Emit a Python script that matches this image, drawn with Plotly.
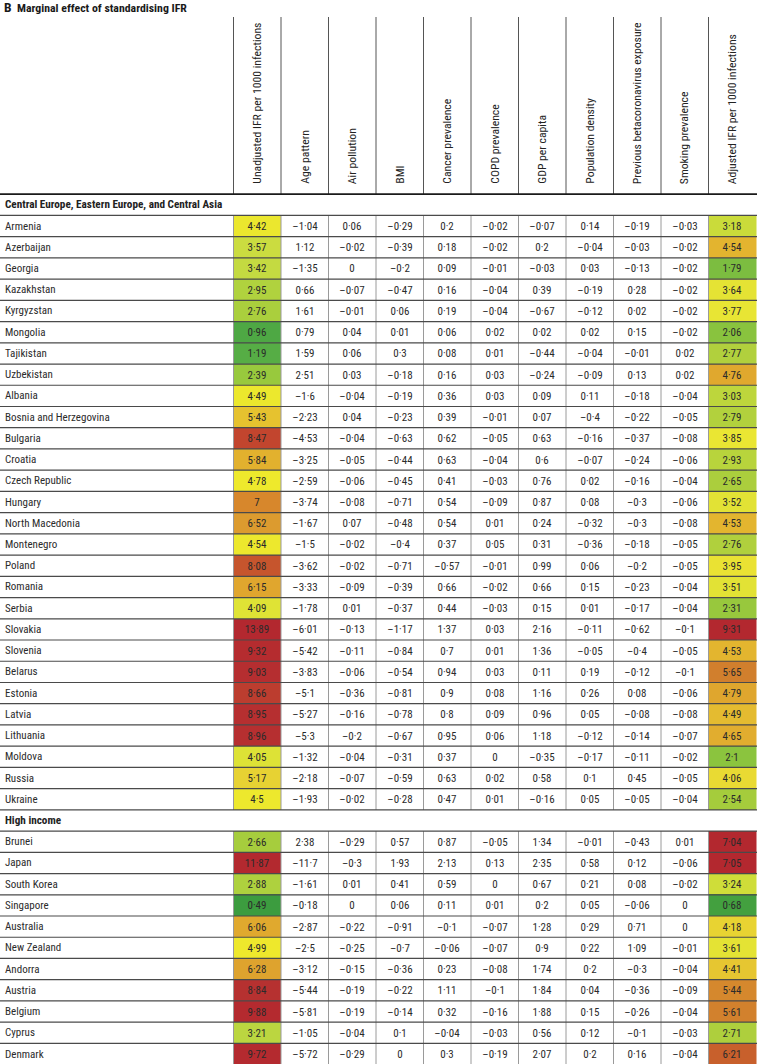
import plotly.graph_objects as go

# ---------------- data ----------------
title_letter = "B"
title_text = "Marginal effect of standardising IFR"

columns = [
    "Unadjusted IFR per 1000 infections",
    "Age pattern",
    "Air pollution",
    "BMI",
    "Cancer prevalence",
    "COPD prevalence",
    "GDP per capita",
    "Population density",
    "Previous betacoronavirus exposure",
    "Smoking prevalence",
    "Adjusted IFR per 1000 infections",
]

sections = ["Central Europe, Eastern Europe, and Central Asia", "High income"]
section_sizes = [28, 11]

countries = [
    "Armenia", "Azerbaijan", "Georgia", "Kazakhstan", "Kyrgyzstan", "Mongolia",
    "Tajikistan", "Uzbekistan", "Albania", "Bosnia and Herzegovina", "Bulgaria",
    "Croatia", "Czech Republic", "Hungary", "North Macedonia", "Montenegro",
    "Poland", "Romania", "Serbia", "Slovakia", "Slovenia", "Belarus", "Estonia",
    "Latvia", "Lithuania", "Moldova", "Russia", "Ukraine",
    "Brunei", "Japan", "South Korea", "Singapore", "Australia", "New Zealand",
    "Andorra", "Austria", "Belgium", "Cyprus", "Denmark",
]

unadjusted = [4.42, 3.57, 3.42, 2.95, 2.76, 0.96, 1.19, 2.39, 4.49, 5.43, 8.47,
              5.84, 4.78, 7, 6.52, 4.54, 8.08, 6.15, 4.09, 13.89, 9.32, 9.03, 8.66,
              8.95, 8.96, 4.05, 5.17, 4.5,
              2.66, 11.87, 2.88, 0.49, 6.06, 4.99, 6.28, 8.84, 9.88, 3.21, 9.72]
age_pattern = [-1.04, 1.12, -1.35, 0.66, 1.61, 0.79, 1.59, 2.51, -1.6, -2.23, -4.53,
               -3.25, -2.59, -3.74, -1.67, -1.5, -3.62, -3.33, -1.78, -6.01, -5.42,
               -3.83, -5.1, -5.27, -5.3, -1.32, -2.18, -1.93,
               2.38, -11.7, -1.61, -0.18, -2.87, -2.5, -3.12, -5.44, -5.81, -1.05, -5.72]
air_pollution = [0.06, -0.02, 0, -0.07, -0.01, 0.04, 0.06, 0.03, -0.04, 0.04, -0.04,
                 -0.05, -0.06, -0.08, 0.07, -0.02, -0.02, -0.09, 0.01, -0.13, -0.11,
                 -0.06, -0.36, -0.16, -0.2, -0.04, -0.07, -0.02,
                 -0.29, -0.3, 0.01, 0, -0.22, -0.25, -0.15, -0.19, -0.19, -0.04, -0.29]
bmi = [-0.29, -0.39, -0.2, -0.47, 0.06, 0.01, 0.3, -0.18, -0.19, -0.23, -0.63,
       -0.44, -0.45, -0.71, -0.48, -0.4, -0.71, -0.39, -0.37, -1.17, -0.84,
       -0.54, -0.81, -0.78, -0.67, -0.31, -0.59, -0.28,
       0.57, 1.93, 0.41, 0.06, -0.91, -0.7, -0.36, -0.22, -0.14, 0.1, 0]
cancer = [0.2, 0.18, 0.09, 0.16, 0.19, 0.06, 0.08, 0.16, 0.36, 0.39, 0.62,
          0.63, 0.41, 0.54, 0.54, 0.37, -0.57, 0.66, 0.44, 1.37, 0.7,
          0.94, 0.9, 0.8, 0.95, 0.37, 0.63, 0.47,
          0.87, 2.13, 0.59, 0.11, -0.1, -0.06, 0.23, 1.11, 0.32, -0.04, 0.3]
copd = [-0.02, -0.02, -0.01, -0.04, -0.04, 0.02, 0.01, 0.03, 0.03, -0.01, -0.05,
        -0.04, -0.03, -0.09, 0.01, 0.05, -0.01, -0.02, -0.03, 0.03, 0.01,
        0.03, 0.08, 0.09, 0.06, 0, 0.02, 0.01,
        -0.05, 0.13, 0, 0.01, -0.07, -0.07, -0.08, -0.1, -0.16, -0.03, -0.19]
gdp = [-0.07, 0.2, -0.03, 0.39, -0.67, 0.02, -0.44, -0.24, 0.09, 0.07, 0.63,
       0.6, 0.76, 0.87, 0.24, 0.31, 0.99, 0.66, 0.15, 2.16, 1.36,
       0.11, 1.16, 0.96, 1.18, -0.35, 0.58, -0.16,
       1.34, 2.35, 0.67, 0.2, 1.28, 0.9, 1.74, 1.84, 1.88, 0.56, 2.07]
pop_density = [0.14, -0.04, 0.03, -0.19, -0.12, 0.02, -0.04, -0.09, 0.11, -0.4, -0.16,
               -0.07, 0.02, 0.08, -0.32, -0.36, 0.06, 0.15, 0.01, -0.11, -0.05,
               0.19, 0.26, 0.05, -0.12, -0.17, 0.1, 0.05,
               -0.01, 0.58, 0.21, 0.05, 0.29, 0.22, 0.2, 0.04, 0.15, 0.12, 0.2]
betacov = [-0.19, -0.03, -0.13, 0.28, 0.02, 0.15, -0.01, 0.13, -0.18, -0.22, -0.37,
           -0.24, -0.16, -0.3, -0.3, -0.18, -0.2, -0.23, -0.17, -0.62, -0.4,
           -0.12, 0.08, -0.08, -0.14, -0.11, 0.45, -0.05,
           -0.43, 0.12, 0.08, -0.06, 0.71, 1.09, -0.3, -0.36, -0.26, -0.1, 0.16]
smoking = [-0.03, -0.02, -0.02, -0.02, -0.02, -0.02, 0.02, 0.02, -0.04, -0.05, -0.08,
           -0.06, -0.04, -0.06, -0.08, -0.05, -0.05, -0.04, -0.04, -0.1, -0.05,
           -0.1, -0.06, -0.08, -0.07, -0.02, -0.05, -0.04,
           0.01, -0.06, -0.02, 0, 0, -0.01, -0.04, -0.09, -0.04, -0.03, -0.04]
adjusted = [3.18, 4.54, 1.79, 3.64, 3.77, 2.06, 2.77, 4.76, 3.03, 2.79, 3.85,
            2.93, 2.65, 3.52, 4.53, 2.76, 3.95, 3.51, 2.31, 9.31, 4.53,
            5.65, 4.79, 4.49, 4.65, 2.1, 4.06, 2.54,
            7.04, 7.05, 3.24, 0.68, 4.18, 3.61, 4.41, 5.44, 5.61, 2.71, 6.21]

middle_cols = [age_pattern, air_pollution, bmi, cancer, copd, gdp, pop_density, betacov, smoking]

# ---------------- styling ----------------
FONT = "Liberation Sans Narrow, Roboto Condensed, Roboto, Arial Narrow, sans-serif"
TXT = "#2b2b2b"
unadj_stops = [(0.45, "#3b9b3f"), (1.0, "#4fa944"), (1.2, "#56ad45"), (2.4, "#99c93d"),
               (2.7, "#a8ce3d"), (3.0, "#b2d33e"), (3.5, "#c8db42"), (4.05, "#dde236"),
               (4.4, "#ebe72e"), (4.6, "#eee92c"), (5.0, "#eee82c"), (5.17, "#e7d233"),
               (5.43, "#e6c22f"), (5.84, "#e2b12e"), (6.1, "#e0a82e"), (6.5, "#dc9c2f"),
               (7.0, "#d7872c"), (8.08, "#c6552d"), (8.47, "#c2452e"), (8.7, "#bb3b2f"),
               (8.85, "#b63030"), (9.5, "#b42a2f"), (14.0, "#b3282f")]
adj_stops = [(0.6, "#3f9e3f"), (1.8, "#7dbd40"), (2.1, "#8bc43e"), (2.5, "#a3cb3c"),
             (2.8, "#b2d13d"), (3.05, "#bed63c"), (3.25, "#d0dd39"), (3.5, "#e2e235"),
             (3.9, "#ebe633"), (4.06, "#e9da33"), (4.2, "#e8d232"), (4.41, "#e6c631"),
             (4.53, "#e3b52f"), (4.65, "#e1ad2f"), (4.8, "#dfa62e"), (5.5, "#d4852d"),
             (5.65, "#d17f2d"), (6.2, "#c8612c"), (7.0, "#b3282f"), (9.5, "#b3282f")]


def make_scale(stops):
    lo, hi = stops[0][0], stops[-1][0]
    return [[(v - lo) / (hi - lo), c] for v, c in stops], lo, hi


def fmt(v):
    s = f"{v:.2f}".rstrip("0").rstrip(".")
    if s == "-0":
        s = "0"
    return s.replace("-", "\u2013").replace(".", "\u00b7")


# ---------------- row layout ----------------
row_of_country = []
section_rows = []
r = 0
for size in section_sizes:
    section_rows.append(r)
    r += 1
    for _ in range(size):
        row_of_country.append(r)
        r += 1
n_rows = r
all_rows = list(range(n_rows))


def column_matrix(vals_list):
    z = [[None] * len(vals_list) for _ in range(n_rows)]
    t = [[""] * len(vals_list) for _ in range(n_rows)]
    for j, vals in enumerate(vals_list):
        for i, v in enumerate(vals):
            z[row_of_country[i]][j] = v
            t[row_of_country[i]][j] = fmt(v)
    return z, t


fig = go.Figure()

cs_u, lo_u, hi_u = make_scale(unadj_stops)
z, t = column_matrix([unadjusted])
fig.add_trace(go.Heatmap(x=[0], y=all_rows, z=z, text=t, texttemplate="%{text}",
                         textfont=dict(family=FONT, size=11, color=TXT),
                         colorscale=cs_u, zmin=lo_u, zmax=hi_u, showscale=False,
                         hoverinfo="skip"))

z, t = column_matrix(middle_cols)
fig.add_trace(go.Heatmap(x=list(range(1, 10)), y=all_rows, z=z, text=t,
                         texttemplate="%{text}",
                         textfont=dict(family=FONT, size=11, color=TXT),
                         colorscale=[[0, "white"], [1, "white"]], showscale=False,
                         hoverinfo="skip"))

cs_a, lo_a, hi_a = make_scale(adj_stops)
z, t = column_matrix([adjusted])
fig.add_trace(go.Heatmap(x=[10], y=all_rows, z=z, text=t, texttemplate="%{text}",
                         textfont=dict(family=FONT, size=11, color=TXT),
                         colorscale=cs_a, zmin=lo_a, zmax=hi_a, showscale=False,
                         hoverinfo="skip"))

# ---------------- geometry ----------------
W, H = 757, 1064
col_w = 47.5
first_col_px = 233.5
row_h = 21.23
row0_px = 204.8
x_range = [-0.5 - first_col_px / col_w, -0.5 + (W - first_col_px) / col_w]
y_range = [(H - row0_px) / row_h, -row0_px / row_h]
header_top = 17 / row_h - row0_px / row_h
header_text_bottom = -0.5 - (194.3 - 186) / row_h

shapes = []
# header vertical lines
for c in range(len(columns)):
    shapes.append(dict(type="line", xref="x", yref="y", x0=c - 0.5, x1=c - 0.5,
                       y0=header_top, y1=-0.5, line=dict(color="#555555", width=1)))
# body vertical lines per section
for s_row, size in zip(section_rows, section_sizes):
    for c in range(len(columns)):
        shapes.append(dict(type="line", xref="x", yref="y", x0=c - 0.5, x1=c - 0.5,
                           y0=s_row + 0.5, y1=s_row + size + 0.5,
                           line=dict(color="#9a9a9a", width=1)))
# horizontal row lines
for rr in all_rows:
    shapes.append(dict(type="line", xref="paper", yref="y", x0=0, x1=1,
                       y0=rr + 0.5, y1=rr + 0.5, line=dict(color="#4a4a4a", width=1.2)))
# header bottom rule
shapes.append(dict(type="line", xref="paper", yref="y", x0=0, x1=1, y0=-0.5, y1=-0.5,
                   line=dict(color="#1a1a1a", width=1.8)))

annotations = []
annotations.append(dict(xref="paper", yref="paper", x=0.003, y=1 - 7 / H,
                        xanchor="left", yanchor="middle", showarrow=False,
                        text=f"<b><span style='font-size:13.5px'>{title_letter}</span>  {title_text}</b>",
                        font=dict(family=FONT, size=11.8, color="#1a1a1a")))
for c, name in enumerate(columns):
    annotations.append(dict(xref="x", yref="y", x=c, y=header_text_bottom,
                            xanchor="center", yanchor="bottom", textangle=-90,
                            showarrow=False, text=name,
                            font=dict(family=FONT, size=11.7, color="#222222")))
for s_row, name in zip(section_rows, sections):
    annotations.append(dict(xref="paper", yref="y", x=0.004, y=s_row, xanchor="left",
                            yanchor="middle", showarrow=False, text=f"<b>{name}</b>",
                            font=dict(family=FONT, size=11.2, color="#222222")))
for i, name in enumerate(countries):
    annotations.append(dict(xref="paper", yref="y", x=0.004, y=row_of_country[i],
                            xanchor="left", yanchor="middle", showarrow=False, text=name,
                            font=dict(family=FONT, size=11, color=TXT)))

fig.update_layout(
    width=W, height=H, margin=dict(l=0, r=0, t=0, b=0),
    paper_bgcolor="white", plot_bgcolor="white",
    xaxis=dict(range=x_range, visible=False, fixedrange=True),
    yaxis=dict(range=y_range, visible=False, fixedrange=True),
    shapes=shapes, annotations=annotations, showlegend=False,
    font=dict(family=FONT, size=11, color=TXT),
)

fig.write_html("out.html", config={"displayModeBar": False},
               post_script="document.body.style.margin='0';document.body.style.padding='0';")
